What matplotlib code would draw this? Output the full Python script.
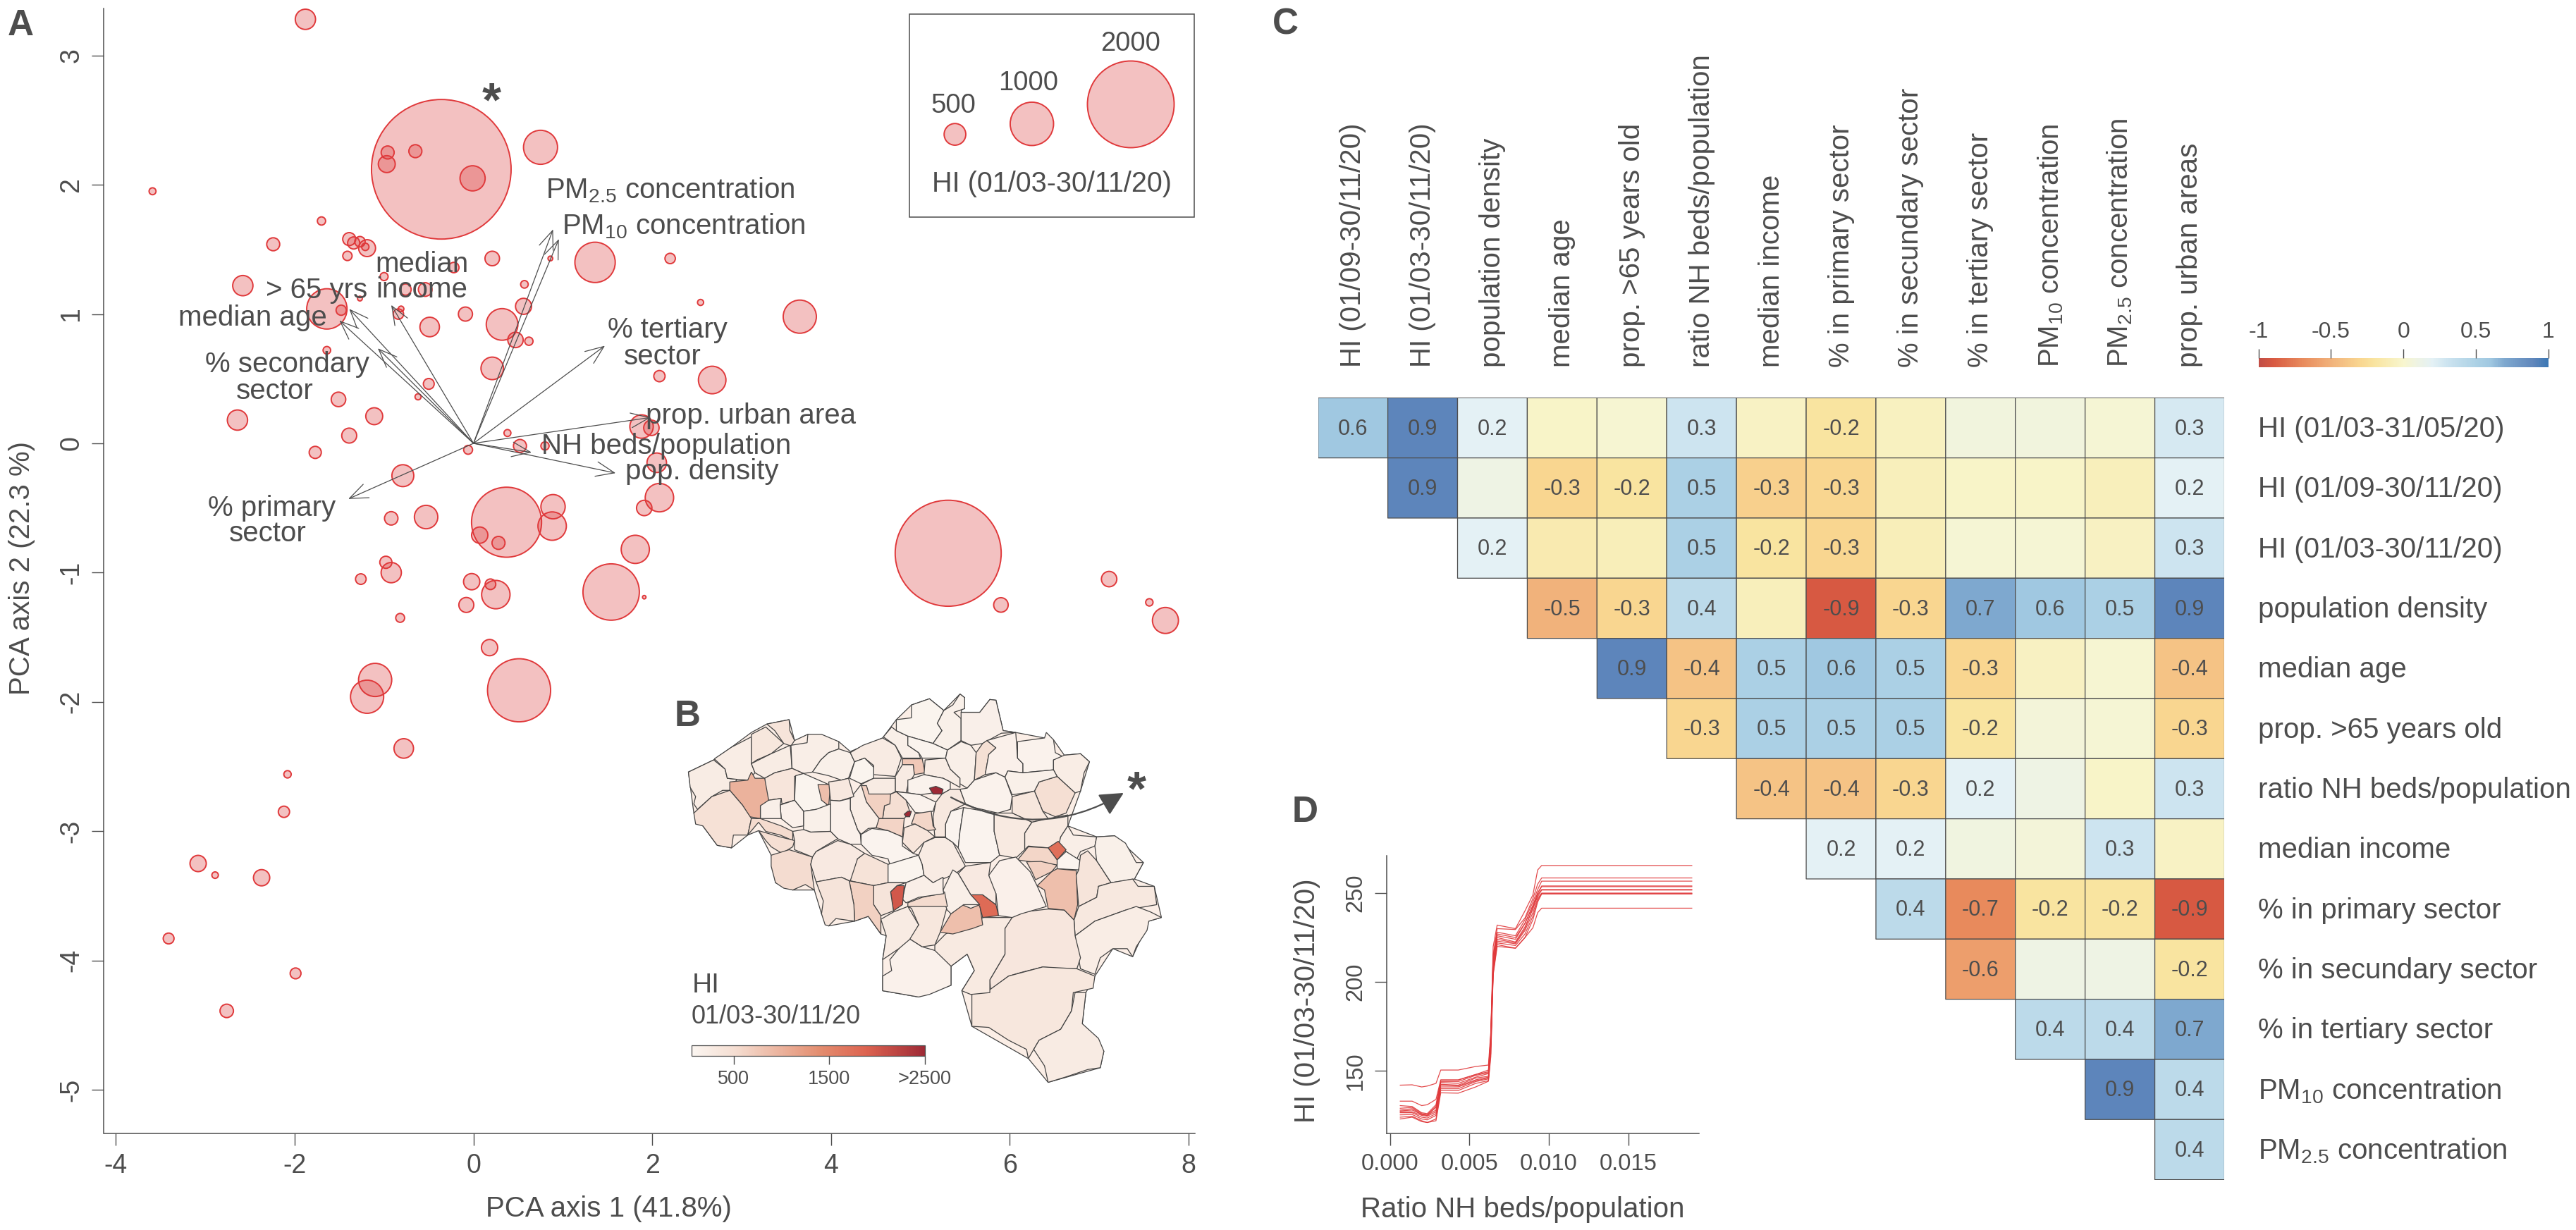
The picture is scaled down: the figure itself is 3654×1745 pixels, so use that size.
import numpy as np
import matplotlib
matplotlib.use('Agg')
import matplotlib.pyplot as plt
from matplotlib.colors import LinearSegmentedColormap, Normalize
from matplotlib.cm import ScalarMappable
from matplotlib.patches import Rectangle, Polygon, FancyArrowPatch

plt.rcParams['font.family'] = ['Liberation Sans', 'DejaVu Sans']
plt.rcParams['mathtext.fontset'] = 'custom'
plt.rcParams['mathtext.rm'] = 'Liberation Sans'
plt.rcParams['mathtext.default'] = 'regular'
plt.rcParams['axes.unicode_minus'] = False

W, H = 3655, 1745
GREY = '#4d4d4d'
RED = '#e0393b'

# ---- panel A data: PCA scores and HI of each district
pca_x = [-1.88, -0.36, -0.96, -0.97, -0.65, -0.01, 0.75, -3.59, -1.70, -2.24, -1.39, -1.34, -1.27, -1.19, -1.21, -1.41,
         0.21, 0.86, 1.36, -0.22, -1.00, -2.58, 0.57, -0.76, -0.54, -1.64, -1.48, -1.27, 0.56, -0.81, -0.84, -0.09,
         0.32, -0.49, 0.47, 0.62, -1.64, 0.21, -0.50, -0.62, -1.51, -1.11, -2.64, -1.39, 0.38, 0.52, 0.80, -1.77,
         -0.06, -0.79, 0.37, 0.89, 0.88, 0.07, 0.28, -0.92, -0.53, -0.98, -0.92, -1.26, -0.02, 0.19, 0.25, -0.08,
         1.81, 1.54, 1.91, 2.20, 2.54, 3.65, 2.08, 2.67, 1.88, 1.99, 2.05, 2.08, 1.91, 5.31, 5.90, 7.11, 7.56, 7.74,
         -0.82, 0.18, -1.10, -1.19, 0.51, -0.78, -2.08, -2.12, -3.08, -2.89, -2.37, -3.41, -1.99, -2.76]
pca_y = [3.28, 2.12, 2.25, 2.16, 2.26, 2.05, 2.29, 1.95, 1.72, 1.54, 1.58, 1.55, 1.56, 1.51, 1.52, 1.45,
         1.43, 1.43, 1.40, 1.36, 1.29, 1.22, 1.23, 1.19, 1.19, 1.04, 1.03, 1.12, 1.06, 1.04, 1.00, 1.00,
         0.92, 0.90, 0.80, 0.79, 0.72, 0.58, 0.46, 0.36, 0.34, 0.21, 0.18, 0.06, 0.08, -0.02, -0.02, -0.07,
         -0.05, -0.25, -0.61, -0.49, -0.64, -0.71, -0.77, -0.58, -0.57, -0.92, -1.00, -1.05, -1.07, -1.09, -1.17, -1.25,
         -0.82, -1.15, -1.19, 1.43, 1.09, 0.98, 0.52, 0.49, 0.13, 0.12, -0.15, -0.42, -0.50, -0.85, -1.25, -1.05, -1.23, -1.37,
         -1.35, -1.58, -1.83, -1.96, -1.91, -2.36, -2.56, -2.85, -3.25, -3.34, -3.36, -3.83, -4.10, -4.39]
pca_hi = [467, 3220, 300, 390, 300, 580, 785, 160, 190, 300, 300, 280, 240, 390, 170, 215,
          335, 110, 930, 240, 185, 467, 175, 260, 315, 930, 235, 110, 370, 130, 240, 325,
          730, 450, 355, 190, 175, 520, 250, 140, 335, 390, 467, 345, 160, 300, 190, 280,
          205, 505, 1615, 560, 655, 375, 300, 310, 540, 280, 467, 245, 375, 245, 655, 345,
          650, 1300, 80, 240, 140, 765, 260, 635, 540, 355, 450, 655, 355, 2445, 335, 355, 170, 600,
          205, 375, 765, 765, 1455, 450, 170, 260, 375, 150, 375, 250, 250, 310]
legend_hi = [500, 1000, 2000]

loading_x = [0.89, 0.955, 1.47, 1.98, 0.65, 1.59, -1.40, -1.39, -1.50, -0.92, -1.07]
loading_y = [1.655, 1.58, 0.755, 0.20, -0.07, -0.23, -0.43, 1.04, 0.95, 1.07, 0.735]

# ---- panel C data
var_top = ['HI (01/09-30/11/20)', 'HI (01/03-30/11/20)', 'population density', 'median age',
           'prop. >65 years old', 'ratio NH beds/population', 'median income', '% in primary sector',
           '% in secundary sector', '% in tertiary sector', r'PM$_{10}$ concentration',
           r'PM$_{2.5}$ concentration', 'prop. urban areas']
var_right = ['HI (01/03-31/05/20)', 'HI (01/09-30/11/20)', 'HI (01/03-30/11/20)', 'population density', 'median age',
             'prop. >65 years old', 'ratio NH beds/population', 'median income', '% in primary sector',
             '% in secundary sector', '% in tertiary sector', r'PM$_{10}$ concentration', r'PM$_{2.5}$ concentration']
n = np.nan
corr = np.array([
    [.6, .9, .2, -.03, .02, .3, -.04, -.2, -.06, .07, .07, .03, .26],
    [n, .9, .1, -.3, -.2, .5, -.33, -.3, -.08, -.03, -.03, -.08, .2],
    [n, n, .2, -.13, -.09, .5, -.2, -.3, -.09, .03, .03, -.05, .3],
    [n, n, n, -.5, -.3, .4, -.08, -.9, -.3, .7, .6, .5, .9],
    [n, n, n, n, .9, -.4, .5, .6, .5, -.3, -.05, .02, -.4],
    [n, n, n, n, n, -.3, .5, .5, .5, -.2, .05, .03, -.3],
    [n, n, n, n, n, n, -.4, -.4, -.3, .2, .1, -.03, .3],
    [n, n, n, n, n, n, n, .2, .2, .08, .05, .3, -.04],
    [n, n, n, n, n, n, n, n, .4, -.7, -.2, -.2, -.9],
    [n, n, n, n, n, n, n, n, n, -.6, .1, .1, -.2],
    [n, n, n, n, n, n, n, n, n, n, .4, .4, .7],
    [n, n, n, n, n, n, n, n, n, n, n, .9, .4],
    [n, n, n, n, n, n, n, n, n, n, n, n, .4]])

# ---- panel D data: partial dependence curves
pd_x = [0.00065, 0.0014, 0.0020, 0.00235, 0.0029, 0.0032, 0.0043, 0.0054, 0.0062, 0.00635, 0.0065, 0.00675,
        0.0079, 0.0085, 0.0090, 0.0093, 0.00955, 0.0190]
pd_curves = [
    [142, 142.2, 141, 141.5, 143, 150.5, 150.5, 152.5, 153.3, 172, 220, 232, 230, 240, 249, 263, 265.5, 265.5],
    [133, 133, 130.5, 131, 134, 145, 145, 148, 150.5, 170, 215, 230, 229.5, 236, 247, 255, 258.5, 258.5],
    [130.5, 130, 126.5, 126, 131, 144.8, 144.8, 148, 149.5, 170, 215, 228, 226, 235, 245, 252, 256.7, 256.7],
    [129, 129.5, 126, 125.5, 130, 144, 144, 147.5, 149, 168, 212, 227, 225, 233, 243, 250, 254, 254],
    [128, 128.8, 125.5, 125, 129.5, 143.5, 143, 146.5, 148.5, 168, 212, 226, 224, 233, 243, 250, 253.6, 253.6],
    [127.5, 128, 125.5, 125, 128, 142.5, 142, 146, 147, 166, 210, 225, 222.5, 231, 241, 249, 252, 252],
    [127, 127, 125, 124.5, 127, 142, 141.5, 145, 146.5, 165, 208, 224, 222, 230, 242, 248, 251.7, 251.7],
    [126.5, 126.5, 124, 123.5, 126, 141, 141, 144.5, 146, 165, 207, 223, 221.5, 229, 239, 247, 250, 250],
    [125.3, 125.5, 123, 122.5, 125, 140, 140, 144, 145.5, 164, 206, 222, 220.5, 227, 237, 246, 249.7, 249.7],
    [124, 124.5, 122, 121, 123, 139, 139, 143, 144.5, 160, 205, 221, 219, 225, 235, 245, 249.5, 249.5],
    [123, 124, 121.5, 121, 122, 137.7, 137.5, 141, 144.2, 158, 204, 220, 219, 225, 230.5, 239, 241.5, 241.5]]

# ---- panel B data: simplified district outlines (map units) and their HI
country_outline = [(150,318),(220,285),(270,250),(325,210),(368,187),(430,175),(445,232),(482,215),(568,235),(600,262),
                   (690,225),(728,175),(770,135),(820,118),(860,150),(905,105),(918,115),(908,155),(960,155),(988,120),
                   (1005,122),(1025,205),(1060,210),(1140,225),(1165,230),(1195,272),(1240,268),(1265,290),(1240,370),
                   (1205,465),(1285,495),(1335,492),(1415,565),(1390,610),(1445,630),(1465,715),(1430,725),(1385,822),
                   (1330,800),(1280,875),(1255,920),(1245,1005),(1305,1080),(1295,1125),(1150,1165),(1095,1100),(938,1012),
                   (910,915),(945,860),(925,815),(880,848),(880,900),(790,932),(690,915),(690,830),(700,765),(685,760),
                   (650,712),(612,725),(540,738),(520,705),(500,640),(440,640),(392,620),(380,545),(345,478),(315,490),
                   (270,525),(230,518),(190,465),(165,430)]
region_hi = [250, 230, 350, 400, 250, 220, 180, 270, 100, 200, 100, 180, 190, 120, 750, 270, 250, 200, 480, 170,
             130, 230, 500, 180, 350, 130, 130, 3000, 330, 130, 500, 3000, 260, 650, 600, 620, 230, 380, 110, 380,
             100, 850, 320, 170, 180, 170, 200, 1000, 450, 550, 500, 530, 280, 300, 430, 100, 260, 110, 110, 290,
             290, 220, 1750, 90, 600, 650, 850, 400, 180, 330, 230, 360, 350, 260, 290, 150, 850, 1800, 170, 300,
             200, 350, 550, 220, 2000, 400, 650, 400, 260]
region_outlines = [
    [(150,318),(220,285),(252,310),(258,335),(285,338),(265,368),(245,368),(215,385),(175,420),(165,405),(170,385),(155,360)],
    [(222,282),(270,250),(325,222),(325,295),(335,320),(315,340),(285,338),(258,335),(252,310)],
    [(325,215),(365,195),(415,240),(380,268),(340,285),(325,295)],
    [(368,187),(430,175),(432,205),(445,232),(435,247),(415,240),(390,205)],
    [(325,295),(380,268),(433,245),(438,308),(390,320),(362,335),(335,320)],
    [(435,245),(480,238),(482,215),(520,215),(568,235),(568,255),(540,265),(518,285),(495,318),(470,322),(438,308)],
    [(495,318),(518,285),(540,265),(568,255),(600,265),(612,290),(595,335),(575,340),(540,328)],
    [(600,265),(635,245),(690,225),(725,245),(742,280),(725,330),(665,325),(665,300),(640,280),(612,290)],
    [(612,290),(640,280),(665,305),(665,335),(630,350),(598,335)],
    [(692,222),(715,195),(728,205),(760,220),(760,245),(790,265),(795,280),(745,280),(725,245)],
    [(728,175),(770,170),(770,135),(820,118),(860,150),(842,185),(855,205),(830,240),(760,220),(728,205)],
    [(860,150),(885,135),(905,105),(918,115),(918,145),(888,155),(908,172),(908,232),(870,258),(830,240),(855,205),(842,185)],
    [(908,155),(960,155),(988,120),(1005,122),(1025,205),(1060,210),(1020,212),(968,240),(935,245),(908,232)],
    [(760,220),(830,240),(870,258),(865,280),(800,280),(790,265),(760,245)],
    [(745,282),(800,282),(808,320),(778,325),(775,298),(745,298)],
    [(725,330),(745,298),(775,298),(778,325),(760,355),(755,375),(725,370)],
    [(808,285),(865,280),(878,310),(905,335),(905,360),(878,345),(858,335),(805,325)],
    [(870,258),(908,235),(935,245),(950,265),(945,340),(925,362),(905,350),(905,335),(878,310),(865,280)],
    [(968,240),(980,232),(1005,252),(985,270),(975,325),(945,340),(950,265)],
    [(1005,225),(1060,210),(1065,280),(1080,295),(1080,320),(1038,315),(1030,332),(1005,320),(975,325),(985,270),(1005,252),(980,232)],
    [(1065,235),(1140,225),(1145,210),(1165,230),(1170,265),(1195,278),(1165,285),(1165,312),(1080,320),(1080,295),(1065,280)],
    [(1165,285),(1195,272),(1240,268),(1265,290),(1250,320),(1240,370),(1225,375),(1175,330),(1165,312)],
    [(1175,330),(1225,375),(1200,430),(1170,440),(1135,425),(1112,370),(1125,345)],
    [(1038,315),(1080,320),(1165,312),(1175,330),(1125,345),(1112,370),(1085,375),(1050,380),(1030,332)],
    [(1050,385),(1112,370),(1135,425),(1150,445),(1105,455),(1050,430)],
    [(945,340),(1005,320),(1030,332),(1050,385),(1045,420),(1010,430),(945,415),(920,405),(905,365),(925,362)],
    [(760,340),(805,325),(858,335),(878,345),(878,365),(855,378),(830,375),(795,380),(760,375)],
    [(820,362),(838,357),(858,365),(855,378),(830,378)],
    [(855,378),(878,365),(905,365),(920,405),(880,425),(865,460),(865,495),(835,495),(830,440),(838,400)],
    [(728,372),(760,375),(795,380),(838,400),(830,425),(800,430),(780,428),(755,395)],
    [(712,378),(728,372),(755,395),(765,425),(750,445),(690,445),(695,410)],
    [(750,433),(760,425),(770,425),(765,440),(755,440)],
    [(630,352),(665,335),(725,335),(725,372),(712,378),(650,380)],
    [(628,355),(645,355),(652,378),(712,378),(710,405),(695,410),(690,445),(680,445),(645,400)],
    [(780,432),(825,425),(830,465),(838,475),(815,478),(780,460),(770,460)],
    [(672,445),(690,445),(750,445),(745,495),(705,478),(672,470)],
    [(600,390),(630,352),(645,400),(680,445),(672,470),(650,472),(630,488),(620,475),(600,420)],
    [(750,470),(780,460),(815,478),(835,495),(805,510),(775,540),(745,510)],
    [(745,495),(745,520),(775,540),(790,545),(710,570),(705,555),(660,545),(630,515),(630,488),(660,472),(705,478)],
    [(362,335),(390,320),(438,308),(470,322),(445,330),(445,395),(410,405),(408,390),(373,395),(362,365)],
    [(448,328),(470,322),(540,352),(520,375),(535,410),(505,420),(470,425),(445,395)],
    [(510,352),(545,352),(540,410),(520,395)],
    [(540,345),(575,340),(595,335),(610,385),(570,397),(545,395)],
    [(545,395),(570,397),(600,390),(600,420),(620,475),(628,488),(630,515),(600,515),(565,500),(545,480)],
    [(470,425),(505,420),(545,405),(545,480),(490,482),(470,475)],
    [(405,408),(445,395),(470,425),(470,465),(440,470),(408,445)],
    [(350,395),(373,395),(408,390),(405,408),(408,445),(350,445)],
    [(265,345),(315,340),(325,318),(335,335),(362,335),(373,395),(350,410),(350,445),(320,440),(300,408),(265,368)],
    [(165,430),(215,385),(265,368),(300,408),(325,445),(315,490),(275,490),(270,525),(230,518),(190,465),(170,460)],
    [(325,445),(350,445),(408,465),(440,480),(440,505),(405,490),(365,480),(345,455),(315,490)],
    [(345,478),(405,495),(445,505),(440,522),(410,540),(380,522),(365,505)],
    [(380,545),(430,530),(495,550),(490,570),(500,640),(475,625),(440,640),(415,635),(392,620),(380,575)],
    [(440,480),(470,475),(490,482),(545,480),(565,500),(530,520),(505,535),(495,550),(445,530),(445,505)],
    [(495,550),(505,535),(565,505),(600,515),(640,540),(620,555),(610,620),(575,605),(505,618),(490,570)],
    [(620,555),(640,540),(705,570),(705,620),(665,628),(600,615)],
    [(705,570),(790,545),(800,570),(805,600),(755,620),(705,620)],
    [(805,510),(835,497),(865,497),(885,510),(920,575),(900,590),(870,605),(830,620),(805,600),(800,570),(790,545)],
    [(865,460),(880,425),(915,415),(905,480),(900,525),(885,510),(865,497)],
    [(915,415),(945,420),(1000,430),(1000,480),(1015,545),(990,565),(945,565),(920,565),(900,525),(905,480)],
    [(1000,430),(1050,430),(1105,455),(1085,485),(1085,530),(1060,553),(1015,545),(1000,480)],
    [(1105,455),(1150,445),(1205,435),(1205,465),(1185,495),(1180,520),(1150,525),(1095,520),(1085,530),(1085,485)],
    [(1185,495),(1205,465),(1220,490),(1285,495),(1280,520),(1240,535),(1225,565),(1200,535),(1180,515)],
    [(1150,525),(1178,507),(1200,530),(1175,558)],
    [(1175,558),(1200,535),(1240,560),(1235,585),(1175,582)],
    [(1065,558),(1095,522),(1150,525),(1175,558),(1175,572),(1095,562)],
    [(1090,563),(1130,562),(1175,572),(1160,590),(1115,612),(1105,590)],
    [(1120,628),(1160,590),(1175,582),(1228,587),(1232,680),(1222,722),(1195,695),(1150,690),(1140,640)],
    [(1240,545),(1260,533),(1285,560),(1325,620),(1290,630),(1285,660),(1235,685),(1228,600),(1235,585)],
    [(1285,495),(1335,492),(1365,512),(1395,565),(1415,565),(1390,610),(1325,620),(1285,560),(1280,520)],
    [(1290,630),(1325,620),(1385,610),(1400,630),(1445,630),(1452,680),(1365,695),(1280,725),(1225,765),(1222,722),(1235,685),(1285,660)],
    [(1225,765),(1280,725),(1365,695),(1395,685),(1435,700),(1465,715),(1430,725),(1425,750),(1395,795),(1385,822),(1370,800),(1330,800),(1295,825),(1280,870),(1240,855),(1230,800)],
    [(1045,715),(1080,700),(1150,692),(1195,695),(1222,722),(1225,765),(1240,825),(1230,855),(1190,855),(1135,850),(1075,865),(1040,875),(990,912),(988,885),(1030,815),(1030,745)],
    [(938,925),(988,912),(1040,875),(1135,850),(1230,855),(1280,875),(1275,908),(1220,920),(1215,970),(1185,1020),(1125,1050),(1110,1075),(1095,1100),(1090,1075),(1040,1050),(985,1015),(938,1012)],
    [(1110,1075),(1125,1050),(1185,1020),(1215,970),(1225,920),(1255,920),(1245,1005),(1290,1045),(1305,1080),(1295,1125),(1260,1130),(1200,1150),(1150,1165),(1140,1120)],
    [(835,790),(865,760),(970,715),(1050,715),(1030,745),(1030,815),(988,885),(988,920),(935,925),(910,915),(945,860),(925,815),(880,848),(835,825)],
    [(690,875),(715,860),(710,830),(760,770),(800,795),(835,805),(880,848),(880,900),(820,925),(790,932),(720,920),(690,915)],
    [(850,755),(880,705),(910,680),(935,690),(960,680),(968,735),(940,745),(885,760)],
    [(935,653),(968,653),(1005,680),(1012,710),(968,715),(960,685)],
    [(985,600),(1015,560),(1060,550),(1100,590),(1120,630),(1145,685),(1075,705),(1050,715),(1012,710),(1005,650),(985,620)],
    [(900,595),(920,575),(990,565),(985,600),(1005,650),(1005,680),(968,653),(935,653)],
    [(858,640),(885,585),(900,595),(935,653),(960,680),(915,680),(880,705),(865,690)],
    [(760,770),(790,735),(770,690),(760,685),(860,675),(868,690),(850,755),(835,790),(800,795)],
    [(760,675),(800,660),(850,650),(862,645),(870,685),(760,685)],
    [(755,620),(805,600),(830,620),(858,605),(858,640),(860,650),(790,660),(755,675),(745,665)],
    [(730,628),(750,628),(745,680),(720,697),(712,645)],
    [(665,628),(705,620),(755,620),(730,628),(712,645),(720,697),(685,710),(665,680)],
    [(597,615),(665,628),(665,680),(685,710),(685,760),(650,712),(612,725),(610,680)],
    [(505,618),(575,605),(597,615),(610,680),(612,725),(560,718),(540,738),(530,735),(520,705),(525,670)],
    [(685,720),(720,700),(760,685),(790,735),(765,775),(735,800),(690,830),(700,765)]]

corr_cmap = LinearSegmentedColormap.from_list('corr', [
    (0.0, '#c14d46'), (0.05, '#d85a42'), (0.15, '#e88a5c'), (0.25, '#f1b27b'), (0.35, '#f9d690'), (0.4, '#f9e4a0'),
    (0.5, '#f8f6ce'), (0.55, '#eef3e4'), (0.6, '#e4f1f5'), (0.65, '#cde4f0'), (0.75, '#acd1e5'), (0.8, '#a0c8e1'),
    (0.85, '#7ea8cf'), (0.95, '#5f86bb'), (1.0, '#3c78b4')])
map_cmap = LinearSegmentedColormap.from_list('hi', [
    (0.0, '#fbf6f1'), (0.18, '#f5dfd3'), (0.55, '#e38d6f'), (0.75, '#dd6350'), (1.0, '#9e2a36')])


def px_axes(fig, left, top, right, bottom, **kw):
    return fig.add_axes([left / W, 1 - bottom / H, (right - left) / W, (bottom - top) / H], **kw)


def marker_area(hi):
    # bubble diameter is proportional to HI (2000 -> 123 px at 100 dpi)
    return (np.asarray(hi) * 0.0615 * 0.72) ** 2


def style_axis(ax, size, tick_len=12.2, pad=8):
    for s in ['top', 'right']:
        ax.spines[s].set_visible(False)
    for s in ['left', 'bottom']:
        ax.spines[s].set_color(GREY)
        ax.spines[s].set_linewidth(1.1)
    ax.tick_params(colors=GREY, labelsize=size, length=tick_len, width=1.0, pad=pad)
    for t in ax.get_yticklabels():
        t.set_rotation(90)
        t.set_va('center')


fig = plt.figure(figsize=(W / 100, H / 100), dpi=100, facecolor='white')

# A: PCA biplot
ax_a = px_axes(fig, 147.5, 12, 1695, 1608)
ax_a.scatter(pca_x, pca_y, s=marker_area(pca_hi), facecolor=(0.85, 0.2, 0.2, 0.3), edgecolor=RED, linewidth=1.4, zorder=2)
for lx, ly in zip(loading_x, loading_y):
    ax_a.annotate('', xy=(lx, ly), xytext=(0, 0), zorder=3,
                  arrowprops=dict(arrowstyle='->,head_length=0.75,head_width=0.3', color=GREY, lw=0.9,
                                  shrinkA=0, shrinkB=0, mutation_scale=25))
ax_a.set_xlim(-4.133, 8.07)
ax_a.set_ylim(-5.338, 3.364)
ax_a.set_xticks([-4, -2, 0, 2, 4, 6, 8])
ax_a.set_yticks([-5, -4, -3, -2, -1, 0, 1, 2, 3])
style_axis(ax_a, 27)

# C: correlation matrix
ax_c = px_axes(fig, 1869.7, 564.3, 3155.5, 1673.6)
ax_c.pcolor(np.ma.masked_invalid(corr), cmap=corr_cmap, vmin=-1, vmax=1, edgecolors=GREY, linewidth=0.9)
ax_c.set_xlim(0, 13)
ax_c.set_ylim(13, 0)
ax_c.axis('off')
for i in range(13):
    for j in range(13):
        if not np.isnan(corr[i, j]) and abs(corr[i, j]) >= 0.15:
            ax_c.text(j + 0.5, i + 0.52, '%.1f' % corr[i, j], ha='center', va='center', fontsize=22, color=GREY)

cax = px_axes(fig, 3203.6, 507.6, 3615, 521.4)
cb = fig.colorbar(ScalarMappable(Normalize(-1, 1), corr_cmap), cax=cax, orientation='horizontal', ticklocation='top')
cb.set_ticks([-1, -0.5, 0, 0.5, 1], labels=['-1', '-0.5', '0', '0.5', '1'])
cb.outline.set_visible(False)
cax.tick_params(length=9.5, width=1.0, colors=GREY, labelsize=23, pad=6)

# D: partial dependence
ax_d = px_axes(fig, 1966.6, 1214, 2409.5, 1608.4)
for curve in pd_curves:
    ax_d.plot(pd_x, curve, color=RED, lw=0.9, alpha=0.9)
ax_d.set_xlim(-0.00022, 0.01943)
ax_d.set_ylim(114.7, 271)
ax_d.set_xticks([0, 0.005, 0.010, 0.015], labels=['0.000', '0.005', '0.010', '0.015'])
ax_d.set_yticks([150, 200, 250])
style_axis(ax_d, 23.5)

# B: map, in its own units
ax_b = px_axes(fig, 900, 930, 1700, 1745)
ax_b.patch.set_alpha(0)
hi_norm = Normalize(58, 2500)
ax_b.add_patch(Polygon(country_outline, closed=True, facecolor='#fbeee6', edgecolor='#444444', linewidth=0.9))
for hi, outline in zip(region_hi, region_outlines):
    ax_b.add_patch(Polygon(outline, closed=True, facecolor=map_cmap(hi_norm(hi)), edgecolor='#444444', linewidth=0.9))
ax_b.set_xlim(0, 1568)
ax_b.set_ylim(1568, 0)
ax_b.axis('off')
ax_b.add_patch(FancyArrowPatch((880, 387), (1360, 375), connectionstyle='arc3,rad=0.28',
                               arrowstyle='-|>,head_length=0.8,head_width=0.4', mutation_scale=26,
                               color=GREY, lw=1.6, shrinkA=0, shrinkB=0))
mcax = px_axes(fig, 980.6, 1482.5, 1312, 1497.6)
mcb = fig.colorbar(ScalarMappable(hi_norm, map_cmap), cax=mcax, orientation='horizontal')
mcb.set_ticks([500, 1500, 2500], labels=['500', '1500', '>2500'])
mcb.outline.set_edgecolor(GREY)
mcb.outline.set_linewidth(0.9)
mcax.tick_params(length=8.5, width=1.0, colors=GREY, labelsize=19.5, pad=6)

# overlay in figure pixels for the free text
ov = fig.add_axes([0, 0, 1, 1], zorder=10)
ov.set_xlim(0, W)
ov.set_ylim(H, 0)
ov.axis('off')


def label(x, y, s, size=29, ha='left', **kw):
    ov.text(x, y, s, fontsize=size, ha=ha, va='center', color=GREY, **kw)


# biplot labels
label(774, 270, r'PM$_{2.5}$ concentration')
label(797, 321, r'PM$_{10}$ concentration')
label(598, 375, 'median', ha='center')
label(598, 411, 'income', ha='center')
label(377, 412, '> 65 yrs')
label(252.6, 451, 'median age')
label(407.6, 517, '% secondary', ha='center')
label(390, 555, 'sector', ha='center')
label(386, 721, '% primary', ha='center')
label(380, 757, 'sector', ha='center')
label(947, 468, '% tertiary', ha='center')
label(940, 506, 'sector', ha='center')
label(916, 589.6, 'prop. urban area')
label(768, 633, 'NH beds/population')
label(887, 669, 'pop. density')
label(863, 1715, 'PCA axis 1 (41.8%)', ha='center')
label(31, 806, 'PCA axis 2 (22.3 %)', ha='center', rotation=90)

# bubble legend
ov.add_patch(Rectangle((1290, 19.5), 404.5, 288, fill=False, edgecolor=GREY, lw=1.1))
ov.scatter([1354.6, 1463.7, 1604], [190.6, 175.7, 148], s=marker_area(legend_hi),
           facecolor=(0.85, 0.2, 0.2, 0.3), edgecolor=RED, linewidth=1.4)
for lx, ly, v in zip([1352, 1459, 1604], [150, 118, 62], legend_hi):
    label(lx, ly, str(v), size=27.5, ha='center')
label(1492, 261, 'HI (01/03-30/11/20)', size=28.5, ha='center')

# map text
label(982, 1398, 'HI', size=28)
label(981, 1443, '01/03-30/11/20', size=26)

# matrix labels
col_w = (3155.5 - 1869.7) / 13
row_h = (1673.6 - 564.3) / 13
for j, name in enumerate(var_top):
    ov.text(1869.7 + (j + 0.5) * col_w, 521, name, rotation=90, fontsize=29, color=GREY, ha='center', va='bottom')
for i, name in enumerate(var_right):
    label(3203, 564.3 + (i + 0.5) * row_h + 2, name)

# panel D labels
label(2160, 1716, 'Ratio NH beds/population', ha='center')
label(1854, 1420, 'HI (01/03-30/11/20)', ha='center', rotation=90)

# stars and panel letters
label(697, 146, '*', size=50, ha='center', fontweight='bold')
label(1612, 1123, '*', size=50, ha='center', fontweight='bold')
for lx, ly, s in [(11, 36, 'A'), (957, 1017, 'B'), (1805, 35, 'C'), (1833, 1152, 'D')]:
    ov.text(lx, ly, s, fontsize=37, fontweight='bold', color=GREY, ha='left', va='center')

fig.savefig('out.png', dpi=100)
